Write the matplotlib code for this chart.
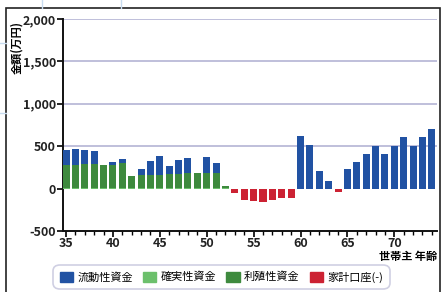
import matplotlib
matplotlib.use('Agg')
import matplotlib.pyplot as plt
from matplotlib.patches import Patch, Rectangle
from matplotlib.lines import Line2D
from matplotlib.ticker import MultipleLocator, FuncFormatter
import numpy as np

plt.rcParams['font.family'] = ['Noto Sans CJK JP', 'DejaVu Sans']

# 世帯主年齢 35〜74
ages = list(range(35, 75))

# 流動性資金 (blue, stacked on top)
ryudo = [181, 181, 158, 147, 0, 31, 54, 0, 69, 161, 220, 93, 162, 177, 0, 188, 115, 0,
         0, 0, 0, 0, 0, 0, 0,
         625, 516, 202, 89, 0, 233, 310, 407, 504, 407, 504, 605, 504, 605, 702]
# 確実性資金 (light green, thin base)
kakujitsu = [12] * 18 + [0] * 22
# 利殖性資金 (dark green)
rishoku = [261, 269, 280, 280, 265, 265, 284, 138, 150, 150, 153, 161, 161, 173, 173, 177, 173, 23,
           0, 0, 0, 0, 0, 0, 0,
           0, 0, 0, 0, 0, 0, 0, 0, 0, 0, 0, 0, 0, 0, 0]
# 家計口座(-) (red, negative)
kakei = [0] * 18 + [-55, -140, -151, -163, -132, -112, -112,
                    0, 0, 0, 0, -35, 0, 0, 0, 0, 0, 0, 0, 0, 0, 0]

labels = ['流動性資金', '確実性資金', '利殖性資金', '家計口座(-)']
colors = ['#2152a3', '#6cc06c', '#3e8a3e', '#cc2233']

fig = plt.figure(figsize=(4.41, 2.92), dpi=100)
ax = fig.add_axes([63 / 441, 61 / 292, 374 / 441, 212 / 292])

x = np.array(ages)
w = 0.75
base = np.array(kakujitsu)
ax.bar(x, kakujitsu, w, color=colors[1], zorder=3)
ax.bar(x, rishoku, w, bottom=base, color=colors[2], zorder=3)
base = base + np.array(rishoku)
ax.bar(x, ryudo, w, bottom=base, color=colors[0], zorder=3)
ax.bar(x, kakei, w, color=colors[3], zorder=3)

ax.set_xlim(34.68, 74.55)
ax.set_ylim(-500, 2000)
for v in [500, 1000, 1500, 2000]:
    ax.axhline(v, color='#b4b4d4', lw=1.2, zorder=1)

ax.yaxis.set_major_locator(MultipleLocator(500))
ax.yaxis.set_major_formatter(FuncFormatter(lambda v, p: f'{int(v):,}'))
ax.xaxis.set_major_locator(MultipleLocator(5))
ax.xaxis.set_minor_locator(MultipleLocator(1))
ax.tick_params(axis='both', which='major', length=4, width=1.2, labelsize=9, pad=1)
ax.tick_params(axis='x', which='major', pad=0)
ax.tick_params(axis='x', which='minor', length=3, width=1)
for lab in ax.get_xticklabels() + ax.get_yticklabels():
    lab.set_fontweight('bold')
    lab.set_color('#222222')

for s in ['top', 'right']:
    ax.spines[s].set_visible(False)
for s in ['left', 'bottom']:
    ax.spines[s].set_linewidth(1.4)
    ax.spines[s].set_color('#111111')

fig.text(17 / 441, 1 - 47 / 292, '金額(万円)', rotation=90, ha='center', va='center',
         fontsize=8, fontweight='bold')
fig.text(408 / 441, 1 - 256 / 292, '世帯主 年齢', ha='center', va='center',
         fontsize=8, fontweight='bold')

handles = [Patch(facecolor=c, edgecolor=c) for c in colors]
leg = fig.legend(handles, labels, ncol=4, loc='center', bbox_to_anchor=(221.5 / 441, 1 - 277 / 292),
                 fontsize=8, frameon=True, handlelength=1.2, handleheight=1.0,
                 handletextpad=0.4, columnspacing=0.9, borderpad=0.4)
leg.get_frame().set_edgecolor('#c4c4dc')
leg.get_frame().set_linewidth(1.2)
leg.get_frame().set_boxstyle('round,pad=0.2,rounding_size=0.6')

# outer frame and faint sheet lines
fig.add_artist(Rectangle((6 / 441, -0.05), 434 / 441, 1 - 8 / 292 + 0.05, transform=fig.transFigure,
                         fill=False, edgecolor='#222222', lw=1.2))
for xx in [42, 121]:
    fig.add_artist(Line2D([xx / 441, xx / 441], [1 - 8 / 292, 1], transform=fig.transFigure,
                          color='#c8dcf0', lw=1))
for yy in [43, 113]:
    fig.add_artist(Line2D([0, 6 / 441], [1 - yy / 292] * 2, transform=fig.transFigure,
                          color='#c8dcf0', lw=1))

fig.savefig('out.png', dpi=100)
plt.close()
